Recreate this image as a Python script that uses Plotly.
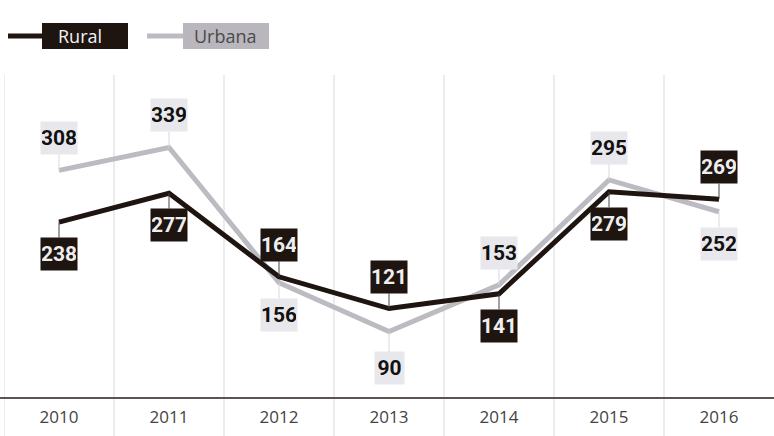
import plotly.graph_objects as go

years = ["2010", "2011", "2012", "2013", "2014", "2015", "2016"]
rural = [238, 277, 164, 121, 141, 279, 269]
urbana = [308, 339, 156, 90, 153, 295, 252]
# label placement: -1 above point, +1 below point
rural_side = [1, 1, -1, -1, 1, 1, -1]
urbana_side = [-1, -1, 1, 1, -1, -1, 1]

RURAL_C = "#1e1410"
URB_C = "#bdbbc2"
LABEL_FONT = "Roboto, sans-serif"

W, H = 774, 436
L, R, T, B = 4, 0, 75, 38
PW, PH = W - L - R, H - T - B

def px(x):
    return (x - L) / PW

def py(y):
    return (H - B - y) / PH

xs = list(range(len(years)))
fig = go.Figure()
fig.add_trace(go.Scatter(x=xs, y=urbana, mode="lines", name="Urbana",
                         line=dict(color=URB_C, width=5), hoverinfo="skip"))
fig.add_trace(go.Scatter(x=xs, y=rural, mode="lines", name="Rural",
                         line=dict(color=RURAL_C, width=5), hoverinfo="skip"))

shapes = []
for i in range(len(years)):
    shapes.append(dict(type="line", xref="x", yref="paper", x0=i - 0.5, x1=i - 0.5,
                       y0=py(H), y1=1, line=dict(color="#d9d9d9", width=1), layer="below"))
shapes.append(dict(type="line", xref="paper", yref="paper", x0=px(0), x1=1,
                   y0=0, y1=0, line=dict(color="#5b5451", width=2)))
# legend
shapes += [
    dict(type="line", xref="paper", yref="paper", x0=px(8), x1=px(44), y0=py(36), y1=py(36),
         line=dict(color=RURAL_C, width=5)),
    dict(type="rect", xref="paper", yref="paper", x0=px(42), x1=px(128), y0=py(49), y1=py(23),
         fillcolor=RURAL_C, line=dict(width=0)),
    dict(type="line", xref="paper", yref="paper", x0=px(147), x1=px(185), y0=py(36), y1=py(36),
         line=dict(color=URB_C, width=5)),
    dict(type="rect", xref="paper", yref="paper", x0=px(183), x1=px(269), y0=py(49), y1=py(23),
         fillcolor="#b9b7bd", line=dict(width=0)),
]

ann = [
    dict(xref="paper", yref="paper", x=px(56), y=py(36), text="Rural", showarrow=False,
         xanchor="left", yanchor="middle",
         font=dict(family="Open Sans, sans-serif", size=18, color="#f2f2f2")),
    dict(xref="paper", yref="paper", x=px(192), y=py(36), text="Urbana", showarrow=False,
         xanchor="left", yanchor="middle",
         font=dict(family="Open Sans, sans-serif", size=18, color="#4a4a4a")),
]

def add_labels(vals, sides, bg, fg, arrowc):
    for i, (v, s) in enumerate(zip(vals, sides)):
        off = 32 if v != 90 else 37
        ann.append(dict(x=i, y=v, xref="x", yref="y", text="<b>%d</b>" % v,
                        showarrow=True, arrowhead=0, arrowwidth=1, arrowcolor=arrowc,
                        ax=0, ay=s * off, standoff=0, bgcolor=bg, borderpad=1,
                        width=34 if v >= 100 else 27, height=30,
                        font=dict(family=LABEL_FONT, size=21, color=fg)))

add_labels(urbana, urbana_side, "#e8e8ec", "#111111", "#d8d8dc")
add_labels(rural, rural_side, RURAL_C, "#eeeeee", "#444444")

fig.update_layout(
    width=W, height=H, margin=dict(l=L, r=R, t=T, b=B),
    paper_bgcolor="white", plot_bgcolor="white", showlegend=False,
    shapes=shapes, annotations=ann,
    xaxis=dict(range=[-0.5, 6.5], tickvals=xs, ticktext=years, showgrid=False,
               zeroline=False, showline=False, ticks="", ticklabelstandoff=7,
               tickfont=dict(family="Open Sans, sans-serif", size=17, color="#444444"),
               fixedrange=True),
    yaxis=dict(range=[0, 437], visible=False, fixedrange=True),
)
fig.write_html("out.html", config={"displayModeBar": False},
               post_script="document.body.style.margin='0';document.body.style.padding='0';")
